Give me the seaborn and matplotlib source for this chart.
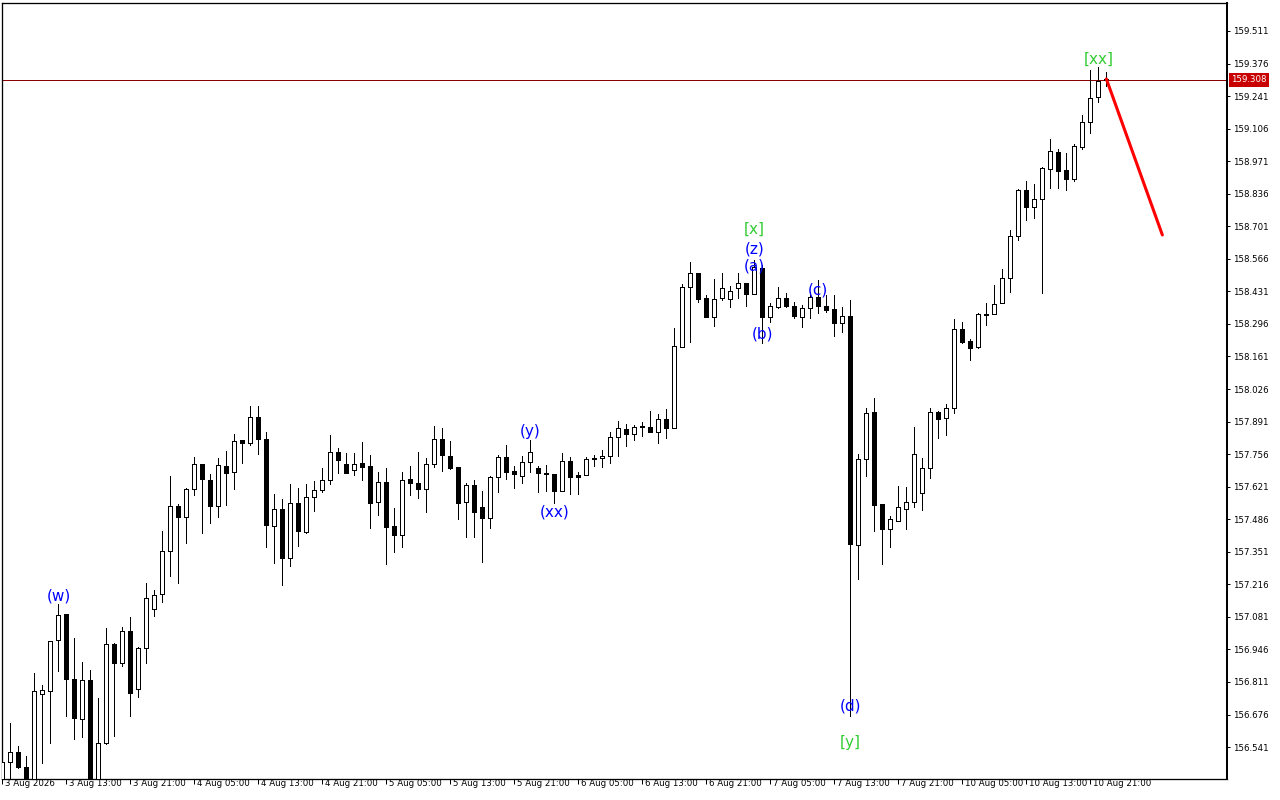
import matplotlib
matplotlib.use("Agg")
import matplotlib.pyplot as plt
import matplotlib.transforms as mtransforms
import numpy as np
import pandas as pd
import seaborn as sns

# H1 candles, 3 Aug 2026 -> 10 Aug 2026
opens = [156.363, 156.480, 156.519, 156.457, 156.371, 156.760, 156.772, 156.984, 157.093, 156.822,
         156.656, 156.819, 156.338, 156.557, 156.967, 156.888, 157.021, 156.781, 156.951, 157.112,
         157.175, 157.353, 157.540, 157.496, 157.610, 157.714, 157.649, 157.542, 157.707, 157.681,
         157.815, 157.801, 157.909, 157.818, 157.457, 157.527, 157.324, 157.552, 157.434, 157.577,
         157.606, 157.647, 157.764, 157.714, 157.689, 157.718, 157.705, 157.556, 157.639, 157.457,
         157.419, 157.652, 157.635, 157.613, 157.714, 157.818, 157.747, 157.701, 157.556, 157.627,
         157.535, 157.490, 157.660, 157.743, 157.686, 157.667, 157.722, 157.697, 157.678, 157.674,
         157.604, 157.726, 157.668, 157.668, 157.741, 157.739, 157.747, 157.826, 157.859, 157.838,
         157.873, 157.867, 157.849, 157.900, 157.863, 158.202, 158.448, 158.506, 158.402, 158.326,
         158.402, 158.398, 158.444, 158.465, 158.419, 158.527, 158.326, 158.368, 158.402, 158.372,
         158.326, 158.361, 158.406, 158.372, 158.357, 158.301, 158.328, 157.379, 157.735, 157.930,
         157.548, 157.447, 157.480, 157.530, 157.559, 157.596, 157.697, 157.930, 157.905, 157.946,
         158.274, 158.225, 158.199, 158.334, 158.336, 158.382, 158.485, 158.662, 158.852, 158.782,
         158.813, 158.937, 159.008, 158.935, 158.898, 159.031, 159.132, 159.236, 159.312]
highs = [156.479, 156.640, 156.547, 156.505, 156.849, 156.798, 156.980, 157.134, 157.093, 156.992,
         156.894, 156.861, 156.745, 157.034, 156.974, 157.040, 157.082, 156.957, 157.220, 157.193,
         157.437, 157.665, 157.548, 157.614, 157.743, 157.714, 157.674, 157.739, 157.769, 157.840,
         157.815, 157.956, 157.956, 157.849, 157.589, 157.569, 157.632, 157.614, 157.632, 157.645,
         157.697, 157.835, 157.780, 157.759, 157.759, 157.805, 157.751, 157.681, 157.697, 157.531,
         157.681, 157.706, 157.764, 157.739, 157.873, 157.863, 157.809, 157.701, 157.635, 157.647,
         157.604, 157.665, 157.752, 157.794, 157.707, 157.749, 157.815, 157.707, 157.711, 157.674,
         157.762, 157.743, 157.683, 157.745, 157.752, 157.773, 157.847, 157.893, 157.881, 157.877,
         157.891, 157.935, 157.922, 157.943, 158.280, 158.460, 158.554, 158.506, 158.416, 158.482,
         158.506, 158.455, 158.506, 158.465, 158.561, 158.540, 158.384, 158.448, 158.423, 158.388,
         158.375, 158.430, 158.478, 158.416, 158.416, 158.368, 158.395, 157.757, 157.946, 157.988,
         157.548, 157.499, 157.624, 157.619, 157.870, 157.739, 157.946, 157.936, 157.963, 158.315,
         158.303, 158.234, 158.340, 158.384, 158.458, 158.523, 158.686, 158.854, 158.889, 158.875,
         158.946, 159.063, 159.020, 159.004, 159.042, 159.163, 159.349, 159.363, 159.342]
lows = [156.342, 156.384, 156.453, 156.355, 156.363, 156.476, 156.559, 156.858, 156.670, 156.576,
        156.584, 156.321, 156.321, 156.553, 156.588, 156.877, 156.671, 156.747, 156.891, 157.086,
        157.144, 157.252, 157.223, 157.389, 157.588, 157.430, 157.472, 157.496, 157.546, 157.610,
        157.721, 157.793, 157.755, 157.370, 157.303, 157.213, 157.293, 157.376, 157.430, 157.521,
        157.598, 157.633, 157.676, 157.676, 157.669, 157.649, 157.448, 157.505, 157.302, 157.351,
        157.370, 157.588, 157.575, 157.517, 157.701, 157.687, 157.693, 157.486, 157.413, 157.413,
        157.309, 157.450, 157.600, 157.654, 157.617, 157.638, 157.683, 157.600, 157.603, 157.555,
        157.604, 157.591, 157.589, 157.668, 157.707, 157.704, 157.721, 157.748, 157.791, 157.815,
        157.831, 157.849, 157.803, 157.822, 157.863, 158.202, 158.222, 158.388, 158.326, 158.289,
        158.395, 158.368, 158.402, 158.372, 158.419, 158.216, 158.305, 158.361, 158.368, 158.319,
        158.285, 158.319, 158.340, 158.347, 158.247, 158.261, 156.670, 157.239, 157.667, 157.438,
        157.300, 157.370, 157.480, 157.447, 157.535, 157.524, 157.658, 157.824, 157.835, 157.928,
        158.218, 158.146, 158.195, 158.292, 158.336, 158.382, 158.430, 158.644, 158.727, 158.737,
        158.423, 158.861, 158.861, 158.852, 158.890, 159.020, 159.087, 159.218, 159.283]
closes = [156.479, 156.519, 156.457, 156.371, 156.772, 156.778, 156.980, 157.088, 156.822, 156.660,
          156.819, 156.338, 156.557, 156.967, 156.888, 157.021, 156.767, 156.951, 157.158, 157.172,
          157.354, 157.540, 157.496, 157.610, 157.714, 157.652, 157.542, 157.710, 157.679, 157.809,
          157.801, 157.909, 157.818, 157.463, 157.527, 157.324, 157.552, 157.438, 157.577, 157.607,
          157.647, 157.764, 157.733, 157.679, 157.714, 157.701, 157.555, 157.639, 157.453, 157.419,
          157.647, 157.638, 157.613, 157.714, 157.818, 157.751, 157.697, 157.555, 157.627, 157.517,
          157.490, 157.660, 157.743, 157.683, 157.674, 157.722, 157.766, 157.676, 157.672, 157.604,
          157.726, 157.662, 157.662, 157.734, 157.734, 157.747, 157.826, 157.863, 157.838, 157.867,
          157.870, 157.849, 157.900, 157.863, 158.205, 158.448, 158.506, 158.398, 158.326, 158.400,
          158.444, 158.434, 158.465, 158.419, 158.532, 158.326, 158.372, 158.402, 158.372, 158.330,
          158.361, 158.406, 158.372, 158.353, 158.301, 158.328, 157.383, 157.735, 157.925, 157.545,
          157.447, 157.486, 157.535, 157.556, 157.755, 157.697, 157.930, 157.903, 157.946, 158.274,
          158.222, 158.195, 158.337, 158.337, 158.377, 158.485, 158.661, 158.852, 158.782, 158.813,
          158.942, 159.013, 158.932, 158.898, 159.034, 159.132, 159.232, 159.304, 159.308]

x_tick_labels = ["3 Aug 2026", "3 Aug 13:00", "3 Aug 21:00", "4 Aug 05:00", "4 Aug 13:00",
                 "4 Aug 21:00", "5 Aug 05:00", "5 Aug 13:00", "5 Aug 21:00", "6 Aug 05:00",
                 "6 Aug 13:00", "6 Aug 21:00", "7 Aug 05:00", "7 Aug 13:00", "7 Aug 21:00",
                 "10 Aug 05:00", "10 Aug 13:00", "10 Aug 21:00"]
bars_per_label = 8
y_ticks = [156.541, 156.676, 156.811, 156.946, 157.081, 157.216, 157.351, 157.486, 157.621,
           157.756, 157.891, 158.026, 158.161, 158.296, 158.431, 158.566, 158.701, 158.836,
           158.971, 159.106, 159.241, 159.376, 159.511]

last_price = 159.308
# projected move drawn in red (bar index, price)
proj_bars = [138, 145]
proj_prices = [159.312, 158.665]

# wave markings
wave_texts = ["(w)", "(y)", "(xx)", "[x]", "(z)", "(a)", "(b)", "(c)", "(d)", "[y]", "[xx]"]
wave_bars = [7, 66, 69, 94, 94, 94, 95, 102, 106, 106, 137]
wave_prices = [157.168, 157.848, 157.516, 158.690, 158.607, 158.536, 158.254, 158.437,
               156.711, 156.558, 159.395]

df = pd.DataFrame({"open": opens, "high": highs, "low": lows, "close": closes})
df["bar"] = np.arange(len(df))
df["bull"] = df["close"] >= df["open"]

sns.set_style("white")
plt.rcParams["font.family"] = ["DejaVu Sans"]

fig = plt.figure(figsize=(12.8, 8), dpi=100)
ax = fig.add_axes([2.3 / 1280, 21 / 800, (1227 - 2.3) / 1280, 776 / 800])
px = 0.72  # one pixel in points

# wicks then bodies
ax.vlines(df["bar"], df["low"], df["high"], color="black", linewidth=px, zorder=2,
          antialiased=False)
body_low = df[["open", "close"]].min(axis=1)
body_h = (df["close"] - df["open"]).abs()
ax.bar(df["bar"], body_h, bottom=body_low, width=0.5,
       color=np.where(df["bull"], "white", "black"), edgecolor="black",
       linewidth=px, zorder=3, antialiased=False)

# last price line + label
ax.axhline(last_price, color="#8c0000", linewidth=px, zorder=1)
trans = mtransforms.blended_transform_factory(ax.transAxes, ax.transData)
ax.text(1.0035, last_price, f"{last_price:.3f}", transform=trans, ha="left", va="center",
        fontsize=6.2, color="white", zorder=6,
        bbox=dict(boxstyle="square,pad=0.25", facecolor="#c80000", edgecolor="none"))

# projection
sns.lineplot(x=proj_bars, y=proj_prices, color="#ff0000", linewidth=2.2, ax=ax, zorder=5)

# wave labels
for txt, b, p in zip(wave_texts, wave_bars, wave_prices):
    col = "#33cc33" if txt.startswith("[") else "#0000ff"
    ax.text(b, p, txt, ha="center", va="center", fontsize=11, color=col, zorder=7)

ax.set_xlim(-0.01, 153.08)
ax.set_ylim(156.4085, 159.627)

ax.yaxis.tick_right()
ax.set_yticks(y_ticks)
ax.set_yticklabels([f"{v:.3f}" for v in y_ticks])
ax.tick_params(axis="y", direction="out", length=2.5, width=px, pad=1.8,
               labelsize=6.2, colors="black", right=True, left=False)

ax.set_xticks(np.arange(len(x_tick_labels)) * bars_per_label)
ax.set_xticklabels(x_tick_labels)
ax.tick_params(axis="x", direction="out", length=3.6, width=px, pad=-3.4,
               labelsize=6.2, colors="black", bottom=True)
offset = mtransforms.ScaledTranslation(2.5 / 100, 0, fig.dpi_scale_trans)
for lab in ax.get_xticklabels():
    lab.set_horizontalalignment("left")
    lab.set_transform(lab.get_transform() + offset)

for side in ["left", "top", "bottom"]:
    ax.spines[side].set_color("black")
    ax.spines[side].set_linewidth(px * 1.3)
ax.spines["right"].set_color("black")
ax.spines["right"].set_linewidth(px * 2)
ax.set_xlabel("")
ax.set_ylabel("")
ax.grid(False)

fig.savefig("out.png", dpi=100, facecolor="white")
